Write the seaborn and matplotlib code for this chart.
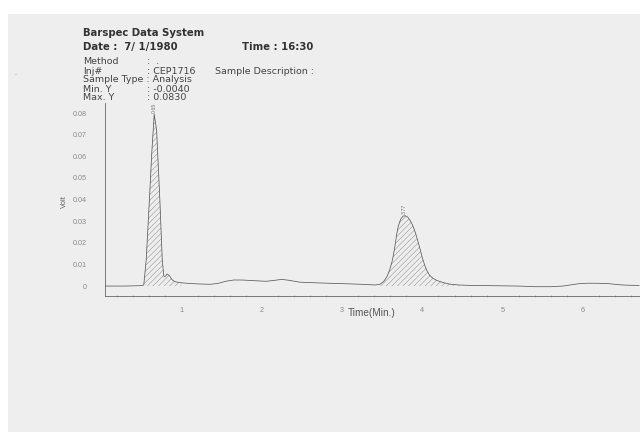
import matplotlib
matplotlib.use("Agg")
import matplotlib.pyplot as plt
import seaborn as sns
import numpy as np
from matplotlib.patches import Rectangle
from matplotlib.ticker import MultipleLocator

sns.set_style("white")
plt.rcParams['font.family'] = ['Liberation Sans', 'DejaVu Sans']
plt.rcParams['hatch.linewidth'] = 0.35
plt.rcParams['hatch.color'] = '#8a8a8a'

# ---- data ----
time_min = [0.05, 0.30, 0.50, 0.53, 0.56, 0.60, 0.63, 0.66, 0.69, 0.73, 0.76, 0.78,
            0.80, 0.82, 0.85, 0.88, 0.92, 1.00, 1.10, 1.20, 1.35, 1.45, 1.55, 1.65,
            1.75, 1.90, 2.05, 2.15, 2.25, 2.35, 2.47, 2.60, 2.75, 2.93, 3.10, 3.25,
            3.41, 3.47, 3.52, 3.56, 3.59, 3.62, 3.64, 3.66, 3.68, 3.70, 3.73, 3.76,
            3.79, 3.82, 3.85, 3.88, 3.91, 3.94, 3.97, 4.00, 4.03, 4.06, 4.09, 4.13,
            4.18, 4.26, 4.34, 4.45, 4.60, 4.80, 5.00, 5.20, 5.40, 5.60, 5.75, 5.95,
            6.05, 6.15, 6.30, 6.45, 6.55, 6.70]
volt = [0.0, 0.0, 0.0002, 0.0005, 0.012, 0.040, 0.062, 0.0795, 0.072, 0.040, 0.012, 0.0045,
        0.0045, 0.0056, 0.0048, 0.0030, 0.0020, 0.0015, 0.0012, 0.0010, 0.0008, 0.0012, 0.0022, 0.0028,
        0.0028, 0.0025, 0.0022, 0.0026, 0.0031, 0.0026, 0.0018, 0.0016, 0.0014, 0.0012, 0.0010, 0.0008,
        0.0005, 0.0008, 0.0022, 0.0045, 0.0072, 0.0110, 0.0145, 0.0190, 0.0240, 0.0278, 0.0310, 0.0324,
        0.0325, 0.0318, 0.0302, 0.0280, 0.0250, 0.0213, 0.0172, 0.0130, 0.0095, 0.0068, 0.0050, 0.0036,
        0.0026, 0.0016, 0.0009, 0.0005, 0.0003, 0.0002, 0.0001, 0.0000, -0.0003, -0.0003, 0.0000, 0.0011,
        0.0013, 0.0013, 0.0012, 0.0006, 0.0004, 0.0003]
peak_times = [0.66, 3.77]
peak_heights = [0.0795, 0.0325]
peak_labels = ["0.65", "3.77"]
peak_ranges = [(0.53, 1.00), (3.47, 4.45)]
y_ticks = [0, 0.01, 0.02, 0.03, 0.04, 0.05, 0.06, 0.07, 0.08]
y_ticklabels = ["0", "0.01", "0.02", "0.03", "0.04", "0.05", "0.06", "0.07", "0.08"]
x_ticks = [1, 2, 3, 4, 5, 6]
info_labels = ["Method", "Inj#", "Sample Type : Analysis", "Min. Y", "Max. Y"]
info_values = [":  .", ": CEP1716", "", ": -0.0040", ": 0.0830"]

W, H = 640, 432
fig = plt.figure(figsize=(6.4, 4.32), dpi=100, facecolor='white')
fig.patches.append(Rectangle((8 / W, 0), 1 - 8 / W, 1 - 14 / H, transform=fig.transFigure,
                             facecolor='#eeeeee', edgecolor='none', zorder=-10))

ax = fig.add_axes([105 / W, 1 - 296 / H, 1 - 105 / W, (296 - 103) / H])
ax.set_facecolor('none')

t = np.array(time_min)
v = np.array(volt)
sns.lineplot(x=t, y=v, ax=ax, color='#5a5a5a', linewidth=0.55, sort=False, estimator=None)
for (a, b) in peak_ranges:
    m = (t >= a) & (t <= b)
    ax.fill_between(t[m], 0, v[m], facecolor='none', edgecolor='#8a8a8a', hatch='//////',
                    linewidth=0)

for pt, ph, pl in zip(peak_times, peak_heights, peak_labels):
    ax.text(pt, ph + 0.0008, pl, rotation=90, ha='center', va='bottom', fontsize=3.8, color='#777777')

ax.set_xlim(0.047, 6.71)
ax.set_ylim(-0.0046, 0.0847)
ax.set_yticks(y_ticks)
ax.set_yticklabels(y_ticklabels)
ax.set_xticks(x_ticks)
ax.set_xticklabels([str(x) for x in x_ticks])
ax.xaxis.set_minor_locator(MultipleLocator(0.2))
ax.tick_params(axis='both', which='major', labelsize=5.2, labelcolor='#8a8a8a', color='#777777',
               width=0.5, direction='out')
ax.tick_params(axis='x', which='major', length=5, pad=3)
ax.tick_params(axis='y', which='major', length=6, pad=7)
ax.tick_params(axis='x', which='minor', length=2, width=0.4, color='#888888', direction='inout', bottom=True)
for s in ['top', 'right']:
    ax.spines[s].set_visible(False)
for s in ['left', 'bottom']:
    ax.spines[s].set_color('#666666')
    ax.spines[s].set_linewidth(0.6)
ax.set_xlabel('')
ax.set_ylabel('')

fig.text(372 / W, 1 - 313 / H, 'Time(Min.)', ha='center', va='center', fontsize=7.2, color='#555555')
fig.text(64 / W, 1 - 202 / H, 'Volt', ha='center', va='center', rotation=90, fontsize=5.5, color='#666666')

tc = '#333333'
hdr = dict(fontsize=7.3, fontweight='bold', color=tc, va='center', family=['DejaVu Sans'])
fig.text(83 / W, 1 - 33 / H, 'Barspec Data System', **hdr)
fig.text(83 / W, 1 - 47 / H, 'Date :  7/ 1/1980', **hdr)
fig.text(242 / W, 1 - 47 / H, 'Time : 16:30', **hdr)
body = dict(fontsize=6.8, color='#444444', va='center', family=['DejaVu Sans'])
ys = [61, 71, 80, 89, 98]
for lab, val, yy in zip(info_labels, info_values, ys):
    fig.text(83 / W, 1 - yy / H, lab, **body)
    if val:
        fig.text(147 / W, 1 - yy / H, val, **body)
fig.text(215 / W, 1 - 71 / H, 'Sample Description :', **body)
fig.text(14 / W, 1 - 75 / H, '.', fontsize=5, color='#888888')

fig.savefig('out.png', dpi=100, facecolor=fig.get_facecolor())
